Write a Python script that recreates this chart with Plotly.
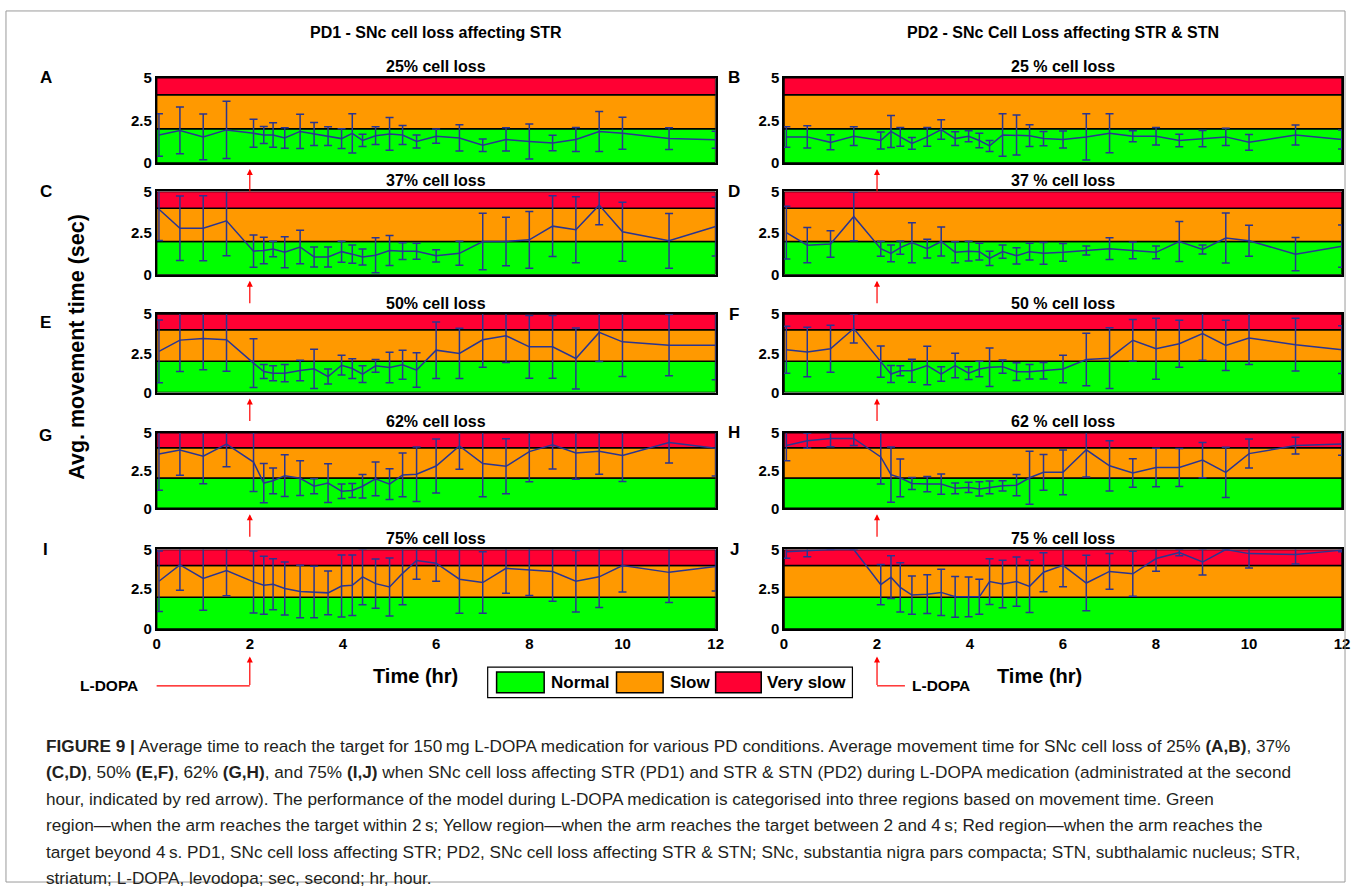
import plotly.graph_objects as go

W, H = 1355, 891

# ---------------- data ----------------
times = [0.05, 0.5, 1, 1.5, 2.08, 2.3, 2.5, 2.75, 3.08, 3.38, 3.68, 3.97, 4.2, 4.42,
         4.7, 5.0, 5.28, 5.58, 6, 6.5, 7, 7.5, 8, 8.5, 9, 9.5, 10, 11, 12]

a_mean = [1.64,1.91,1.53,1.94,1.74,1.64,1.64,1.47,1.85,1.70,1.57,1.43,1.74,1.32,1.60,1.70,1.64,1.26,1.57,1.47,1.04,1.38,1.26,1.17,1.38,1.85,1.74,1.43,1.36]
a_sd   = [1.25,1.37,1.34,1.68,0.82,0.50,0.72,0.60,1.00,0.67,0.55,0.58,1.15,0.36,0.52,0.96,0.55,0.38,0.42,0.77,0.37,0.68,1.02,0.45,0.70,1.17,0.94,0.64,0.50]
b_mean = [1.53,1.53,1.21,1.57,1.32,1.85,1.53,1.15,1.53,1.96,1.43,1.57,1.32,1.00,1.64,1.64,1.60,1.43,1.38,1.53,1.74,1.57,1.57,1.32,1.43,1.53,1.21,1.64,1.38]
b_sd   = [0.60,0.65,0.44,0.55,0.50,0.94,0.55,0.35,0.55,0.57,0.40,0.32,0.42,0.32,1.25,1.17,0.64,0.42,0.50,1.35,1.14,0.32,0.51,0.37,0.48,0.50,0.46,0.58,0.56]
c_mean = [3.93,2.79,2.79,3.24,1.42,1.46,1.55,1.35,1.67,1.07,1.07,1.39,1.24,1.07,1.18,1.46,1.42,1.42,1.14,1.29,2.00,2.00,2.10,2.92,2.70,4.18,2.58,2.04,2.90]
c_sd   = [1.87,1.93,1.95,2.10,0.97,0.80,0.47,0.93,1.00,0.60,0.60,0.63,0.55,0.48,1.05,0.90,0.50,0.48,0.37,0.72,1.70,1.45,1.70,1.82,1.98,1.18,1.77,1.64,1.77]
d_mean = [2.53,1.78,1.85,3.50,1.57,1.29,1.63,1.93,1.57,2.00,1.35,1.42,1.39,0.99,1.39,1.14,1.39,1.29,1.35,1.46,1.57,1.46,1.35,2.00,1.52,2.21,2.04,1.24,1.72]
d_sd   = [1.58,1.06,0.80,1.45,0.45,0.50,0.40,1.20,0.56,0.87,0.63,0.59,0.50,0.43,0.40,0.49,0.50,0.65,0.53,0.27,0.65,0.50,0.38,1.20,0.27,1.50,0.93,1.00,1.27]
e_mean = [2.62,3.34,3.45,3.36,1.87,1.34,1.23,1.23,1.40,1.51,1.02,1.74,1.53,1.17,1.70,1.60,1.77,1.43,2.70,2.49,3.36,3.62,2.91,2.91,2.17,3.83,3.23,3.02,3.02]
e_sd   = [2.00,2.00,2.00,2.00,1.55,0.45,0.48,0.55,0.65,1.25,0.48,0.63,0.63,0.53,0.40,0.97,0.93,1.10,1.80,1.60,1.75,1.70,2.00,2.00,1.95,1.85,2.20,1.95,2.20]
f_mean = [2.73,2.58,2.79,4.08,1.97,1.18,1.39,1.39,1.72,1.18,1.72,1.24,1.50,1.61,1.65,1.33,1.33,1.39,1.50,2.10,2.19,3.33,2.79,3.11,3.76,3.00,3.48,3.05,2.73]
f_sd   = [1.50,1.58,1.50,0.92,1.00,0.54,0.32,0.73,1.23,0.46,0.78,0.41,0.50,1.23,0.42,0.57,0.46,0.52,0.88,1.67,1.94,1.32,1.95,1.50,1.70,1.60,1.70,1.68,1.52]
g_mean = [3.60,3.85,3.45,4.25,3.06,1.67,1.82,2.16,1.99,1.46,1.67,1.13,1.18,1.46,1.95,1.60,2.21,2.25,2.80,4.13,2.96,2.78,3.75,4.20,3.66,3.77,3.49,4.35,3.98]
g_sd   = [2.40,1.67,1.82,1.50,1.95,1.30,0.85,1.38,1.15,0.50,1.28,0.48,0.46,0.78,1.12,1.02,1.45,1.80,1.78,1.55,2.20,1.82,2.00,1.60,1.73,1.52,1.71,1.35,1.85]
h_mean = [4.15,4.47,4.62,4.62,3.40,2.23,2.02,1.64,1.60,1.60,1.32,1.38,1.28,1.38,1.49,1.53,2.02,2.38,2.38,3.87,2.81,2.34,2.70,2.70,3.19,2.38,3.62,4.15,4.26]
h_sd   = [1.00,0.50,0.55,0.47,1.80,1.83,1.25,0.40,0.50,0.67,0.35,0.34,0.47,0.42,0.34,0.70,1.75,1.18,1.48,1.80,1.66,0.94,1.27,1.25,1.17,1.66,0.96,0.55,0.75]
i_mean = [3.00,4.03,3.18,3.67,2.96,2.75,2.81,2.55,2.36,2.32,2.27,2.70,2.75,3.28,2.85,2.64,3.50,4.31,4.14,3.13,2.92,3.82,3.71,3.61,3.00,3.28,3.99,3.56,3.93]
i_sd   = [1.90,1.60,2.00,1.58,1.95,1.82,1.60,1.67,1.65,1.62,1.37,1.95,1.90,1.75,1.55,1.82,1.98,1.18,1.14,2.14,1.93,1.57,1.60,1.87,1.93,1.93,1.67,1.90,1.55]
j_mean = [4.85,4.90,5.00,5.00,2.79,3.26,2.62,2.13,2.19,2.30,2.02,2.02,2.02,2.98,2.83,2.98,2.68,3.57,4.00,2.89,3.62,3.47,4.43,4.81,4.21,5.00,4.74,4.68,4.96]
j_sd   = [0.40,0.35,0.00,0.00,1.27,1.35,1.55,1.20,1.22,1.45,1.28,1.25,1.10,1.44,1.50,1.55,1.65,1.23,1.35,1.74,1.12,1.42,0.80,0.20,0.82,0.00,0.90,0.60,0.10]

panel_letters = ["A", "B", "C", "D", "E", "F", "G", "H", "I", "J"]
panel_titles = ["25% cell loss", "25 % cell loss", "37% cell loss", "37 % cell loss",
                "50% cell loss", "50 % cell loss", "62% cell loss", "62 % cell loss",
                "75% cell loss", "75 % cell loss"]
means = [a_mean, b_mean, c_mean, d_mean, e_mean, f_mean, g_mean, h_mean, i_mean, j_mean]
sds = [a_sd, b_sd, c_sd, d_sd, e_sd, f_sd, g_sd, h_sd, i_sd, j_sd]

column_titles = ["PD1 - SNc cell loss affecting STR", "PD2 - SNc Cell Loss affecting STR &amp; STN"]
bands = [(0, 2, "#00ff00", "Normal"), (2, 4, "#ff9900", "Slow"), (4, 5, "#ff0033", "Very slow")]
x_ticks = [0, 2, 4, 6, 8, 10, 12]
y_ticks = [0, 2.5, 5]
y_ticktext = ["0", "2.5", "5"]
ldopa_time = 2

# ---------------- layout helpers ----------------
def px(x):
    return x / W

def py(y):
    return 1 - y / H

col_x = [(154, 718), (787, 1350)]
row_top = [70, 186, 311, 432, 551]
row_bot = [157, 271, 391, 509, 632]
letter_dy = [0, 0, 9, 3, 0]

FONT = "Liberation Sans, Arial, sans-serif"
LINE_COLOR = "#2a3591"
RED = "#ff0000"

fig = go.Figure()
layout = dict(width=W, height=H, margin=dict(l=0, r=0, t=0, b=0), autosize=False,
              paper_bgcolor="white", plot_bgcolor="white", showlegend=False,
              font=dict(family=FONT, color="black"))
shapes = []
annotations = []

for k in range(10):
    r, c = divmod(k, 2)
    n = k + 1
    xa = "xaxis" if n == 1 else f"xaxis{n}"
    ya = "yaxis" if n == 1 else f"yaxis{n}"
    xr = "x" if n == 1 else f"x{n}"
    yr = "y" if n == 1 else f"y{n}"
    x0p, x1p = col_x[c]
    top = row_top[r]
    bot = row_bot[r]
    last_row = (r == 4)
    layout[xa] = dict(domain=[px(x0p), px(x1p)], range=[0, 12], anchor=yr,
                      tickvals=x_ticks, showticklabels=last_row, ticks="",
                      showgrid=False, zeroline=False, showline=True, mirror=True,
                      linecolor="black", linewidth=1.5,
                      tickfont=dict(family=FONT, size=15, color="black"))
    layout[ya] = dict(domain=[py(bot), py(top)], range=[0, 5], anchor=xr,
                      tickvals=y_ticks, ticktext=[f"<b>{t}</b>" for t in y_ticktext],
                      ticks="", showgrid=False, zeroline=False, showline=True, mirror=True,
                      linecolor="black", linewidth=1.5,
                      tickfont=dict(family=FONT, size=15, color="black"))
    if last_row:
        layout[xa]["ticktext"] = [f"<b>{t}</b>" for t in x_ticks]
    for (lo, hi, col, _) in bands:
        shapes.append(dict(type="rect", xref=xr, yref=yr, x0=0, x1=12, y0=lo, y1=hi,
                           fillcolor=col, line=dict(color="black", width=1.5), layer="below"))
    fig.add_trace(go.Scatter(
        x=times, y=means[k], mode="lines", xaxis=xr, yaxis=yr,
        line=dict(color=LINE_COLOR, width=1.5),
        error_y=dict(type="data", array=sds[k], visible=True, color=LINE_COLOR,
                     thickness=1.5, width=4)))
    # panel title
    annotations.append(dict(text=f"<b>{panel_titles[k]}</b>", xref="paper", yref="paper",
                            x=px((x0p + x1p) / 2), y=py(top - 11), showarrow=False,
                            font=dict(size=16, family=FONT), xanchor="center", yanchor="middle"))
    # panel letter
    annotations.append(dict(text=f"<b>{panel_letters[k]}</b>", xref="paper", yref="paper",
                            x=px(42 if c == 0 else 737), y=py(top + (letter_dy[r] if c == 0 else 0)),
                            showarrow=False,
                            font=dict(size=17, family=FONT), xanchor="center", yanchor="middle"))
    # red L-DOPA arrows below panels (not last row)
    if not last_row:
        annotations.append(dict(text="", xref=xr, yref="paper", x=ldopa_time, y=py(bot + 6),
                                ax=0, ay=24, showarrow=True, arrowhead=2, arrowsize=1,
                                arrowwidth=1.2, arrowcolor=RED))

# bottom L-DOPA markers
annotations.append(dict(text="", xref="x9", yref="paper", x=ldopa_time, y=py(660),
                        ax=0, ay=30, showarrow=True, arrowhead=2, arrowsize=1,
                        arrowwidth=1.2, arrowcolor=RED))
shapes.append(dict(type="line", xref="x9", yref="paper", x0=-0.3, x1=ldopa_time,
                   y0=py(690), y1=py(690), line=dict(color=RED, width=1.2)))
annotations.append(dict(text="<b>L-DOPA</b>", xref="paper", yref="paper", x=px(137), y=py(690),
                        showarrow=False, xanchor="right", yanchor="middle",
                        font=dict(size=15.5, family=FONT)))
annotations.append(dict(text="", xref="x10", yref="paper", x=ldopa_time, y=py(660),
                        ax=0, ay=30, showarrow=True, arrowhead=2, arrowsize=1,
                        arrowwidth=1.2, arrowcolor=RED))
shapes.append(dict(type="line", xref="x10", yref="paper", x0=ldopa_time, x1=2.6,
                   y0=py(690), y1=py(690), line=dict(color=RED, width=1.2)))
annotations.append(dict(text="<b>L-DOPA</b>", xref="x10", yref="paper", x=2.7, y=py(690),
                        showarrow=False, xanchor="left", yanchor="middle",
                        font=dict(size=15.5, family=FONT)))

# column titles and x-axis titles
for c in range(2):
    x0p, x1p = col_x[c]
    annotations.append(dict(text=f"<b>{column_titles[c]}</b>", xref="paper", yref="paper",
                            x=px((x0p + x1p) / 2), y=py(24), showarrow=False,
                            font=dict(size=16, family=FONT), xanchor="center", yanchor="middle"))
    annotations.append(dict(text="<b>Time (hr)</b>", xref="paper", yref="paper",
                            x=px(415 if c == 0 else 1045), y=py(680), showarrow=False,
                            font=dict(size=20, family=FONT), xanchor="center", yanchor="middle"))

# y-axis title
annotations.append(dict(text="<b>Avg. movement time (sec)</b>", xref="paper", yref="paper",
                        x=px(74), y=py(344), showarrow=False, textangle=-90,
                        font=dict(size=21.5, family=FONT), xanchor="center", yanchor="middle"))

# legend (manual)
shapes.append(dict(type="rect", xref="paper", yref="paper", x0=px(488), x1=px(856),
                   y0=py(702), y1=py(671), line=dict(color="black", width=1.2),
                   fillcolor="white"))
leg_sw = [(497, 545), (618, 665), (718, 764)]
leg_tx = [550, 670, 768]
for (lo, hi, col, name), (s0, s1), tx in zip(bands, leg_sw, leg_tx):
    shapes.append(dict(type="rect", xref="paper", yref="paper", x0=px(s0), x1=px(s1),
                       y0=py(697), y1=py(676), fillcolor=col,
                       line=dict(color="black", width=1.5)))
    annotations.append(dict(text=f"<b>{name}</b>", xref="paper", yref="paper",
                            x=px(tx), y=py(687), showarrow=False, xanchor="left",
                            yanchor="middle", font=dict(size=17, family=FONT)))

# outer border
shapes.append(dict(type="rect", xref="paper", yref="paper", x0=px(2), x1=px(1353),
                   y0=py(890), y1=py(2), line=dict(color="#9a9a9a", width=1)))

# caption
caption_lines = [
    "<b>FIGURE 9 |</b> Average time to reach the target for 150\u2009mg L-DOPA medication for various PD conditions. Average movement time for SNc cell loss of 25% <b>(A,B)</b>, 37%",
    "<b>(C,D)</b>, 50% <b>(E,F)</b>, 62% <b>(G,H)</b>, and 75% <b>(I,J)</b> when SNc cell loss affecting STR (PD1) and STR &amp; STN (PD2) during L-DOPA medication (administrated at the second",
    "hour, indicated by red arrow). The performance of the model during L-DOPA medication is categorised into three regions based on movement time. Green",
    "region\u2014when the arm reaches the target within 2\u2009s; Yellow region\u2014when the arm reaches the target between 2 and 4\u2009s; Red region\u2014when the arm reaches the",
    "target beyond 4\u2009s. PD1, SNc cell loss affecting STR; PD2, SNc cell loss affecting STR &amp; STN; SNc, substantia nigra pars compacta; STN, subthalamic nucleus; STR,",
    "striatum; L-DOPA, levodopa; sec, second; hr, hour.",
]
cap_y = [751, 778, 805, 832, 859, 886]
for txt, yy in zip(caption_lines, cap_y):
    annotations.append(dict(text=txt, xref="paper", yref="paper", x=px(40), y=py(yy),
                            showarrow=False, xanchor="left", yanchor="middle",
                            font=dict(size=17.2, family=FONT, color="#231f20")))

layout["shapes"] = shapes
layout["annotations"] = annotations
fig.update_layout(**layout)
fig.write_html("out.html")
